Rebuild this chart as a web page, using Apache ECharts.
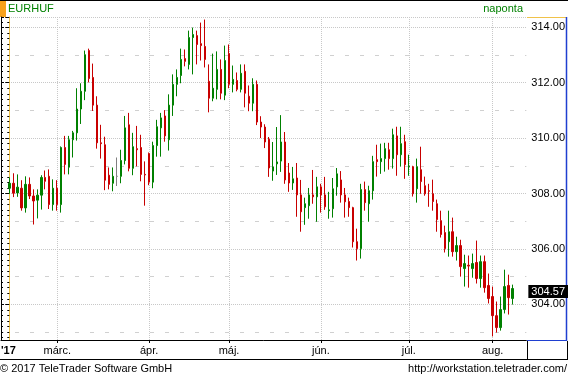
<!DOCTYPE html>
<html>
<head>
<meta charset="utf-8">
<title>EURHUF</title>
<script src="https://cdn.jsdelivr.net/npm/echarts@6/dist/echarts.min.js"></script>
<style>
  html, body { margin: 0; padding: 0; background: #fff; }
  #chart { width: 568px; height: 377px; }
</style>
</head>
<body>
<div id="chart"></div>
<script>
// daily EURHUF candles, 2017-02-13 .. 2017-08-08 (weekdays)
var opens = [
  308.19, 308.37, 308.02, 308.19, 307.48, 308.33, 307.91, 307.76, 307.94, 308.58,
  308.62, 307.60, 308.19, 307.60, 309.66, 308.95, 309.94, 310.19, 311.05, 311.69,
  313.16, 312.19, 311.19, 309.83, 309.76, 308.66, 308.37, 308.62, 308.62, 309.19,
  310.48, 308.91, 309.62, 309.66, 308.69, 309.44, 308.41, 309.73, 310.37, 310.80,
  309.94, 311.19, 311.94, 312.26, 312.87, 312.66, 313.63, 313.70, 313.41, 313.31,
  312.05, 311.44, 311.76, 312.48, 311.55, 313.05, 311.94, 312.08, 311.76, 312.41,
  311.51, 311.26, 311.94, 310.58, 310.40, 309.96, 308.81, 309.07, 309.17, 309.86,
  308.74, 308.38, 308.56, 307.95, 307.49, 307.56, 307.95, 307.88, 308.24, 307.95,
  307.38, 307.45, 308.24, 308.49, 307.95, 307.71, 307.49, 306.26, 306.01, 308.14,
  307.63, 308.10, 309.22, 309.15, 309.26, 309.58, 309.26, 310.08, 309.40, 309.87,
  308.97, 308.97, 308.17, 308.86, 308.28, 308.10, 307.99, 307.63, 307.02, 306.59,
  306.26, 306.62, 305.90, 306.12, 305.29, 305.41, 305.29, 305.51, 304.93, 305.54,
  304.68, 304.28, 303.59, 303.16, 303.81, 304.68, 304.21
];
var closes = [
  308.37, 308.01, 308.23, 307.48, 308.33, 307.91, 307.73, 307.94, 308.58, 308.44,
  307.60, 308.19, 307.60, 309.66, 309.05, 309.94, 310.19, 311.05, 311.69, 313.01,
  312.15, 311.19, 309.83, 309.80, 308.48, 308.33, 308.62, 308.62, 309.19, 310.37,
  308.91, 309.69, 309.58, 308.69, 308.67, 308.41, 309.73, 310.41, 310.73, 310.08,
  311.19, 311.94, 312.19, 312.84, 312.77, 313.63, 313.74, 313.38, 313.34, 312.84,
  311.44, 311.80, 312.48, 311.62, 312.80, 311.94, 312.12, 311.76, 312.34, 311.62,
  311.26, 311.94, 310.58, 310.40, 309.86, 308.92, 308.96, 309.14, 309.86, 308.49,
  308.38, 308.53, 307.95, 307.34, 307.63, 307.95, 307.88, 308.24, 307.95, 307.52,
  307.41, 308.17, 308.71, 307.95, 307.70, 307.49, 306.26, 306.01, 308.14, 307.67,
  308.10, 309.15, 309.15, 309.26, 309.62, 309.26, 310.12, 309.40, 309.80, 309.04,
  308.99, 307.99, 308.97, 308.43, 307.99, 308.08, 307.71, 307.06, 306.52, 306.01,
  306.62, 305.90, 306.12, 305.36, 305.47, 305.38, 305.47, 304.93, 305.54, 304.60,
  304.21, 303.59, 303.16, 303.81, 304.64, 304.24, 304.57
];
var lows = [
  307.99, 307.87, 307.88, 307.38, 307.31, 307.80, 306.88, 307.10, 307.42, 308.15,
  307.44, 307.38, 307.38, 307.31, 308.69, 308.69, 309.30, 309.91, 310.51, 311.37,
  312.01, 310.98, 309.62, 309.26, 308.12, 308.15, 308.08, 308.27, 308.37, 309.05,
  308.80, 308.66, 308.98, 308.44, 307.56, 308.30, 308.19, 309.33, 309.33, 309.87,
  309.55, 310.80, 311.51, 311.98, 312.59, 312.48, 312.30, 312.66, 312.80, 312.55,
  310.93, 311.33, 311.40, 311.40, 311.37, 311.80, 311.65, 311.69, 311.65, 311.11,
  310.97, 310.97, 310.47, 310.00, 309.64, 308.60, 308.46, 308.67, 308.78, 308.35,
  308.06, 308.13, 307.16, 306.62, 306.87, 307.09, 307.63, 306.98, 307.31, 307.41,
  307.09, 307.13, 307.92, 307.67, 307.13, 307.16, 306.05, 305.58, 305.65, 307.38,
  306.98, 307.78, 308.61, 308.71, 308.79, 308.86, 308.90, 308.64, 308.97, 308.53,
  308.64, 307.89, 307.67, 307.99, 307.92, 307.52, 307.38, 306.62, 306.41, 305.87,
  305.72, 305.72, 305.58, 305.00, 304.64, 304.60, 304.96, 304.75, 304.60, 304.42,
  304.03, 302.84, 302.98, 303.05, 303.67, 303.63, 303.99
];
var highs = [
  308.58, 308.73, 308.69, 308.48, 308.62, 308.58, 308.15, 308.15, 308.66, 308.83,
  308.87, 308.51, 308.48, 309.70, 310.08, 310.08, 310.26, 311.80, 311.98, 313.16,
  313.23, 312.69, 311.51, 310.48, 310.05, 308.94, 308.94, 309.30, 309.58, 310.80,
  310.91, 310.19, 310.44, 310.12, 309.16, 309.48, 309.87, 310.66, 310.91, 311.01,
  311.58, 312.30, 312.48, 313.23, 313.20, 313.88, 313.99, 313.88, 314.17, 314.28,
  312.66, 313.05, 313.13, 312.84, 313.34, 313.38, 312.62, 312.37, 312.66, 312.66,
  311.90, 312.16, 312.08, 310.79, 310.50, 310.04, 309.86, 310.40, 310.83, 310.22,
  309.10, 308.96, 309.10, 308.49, 307.85, 308.20, 308.85, 308.60, 308.35, 308.60,
  308.06, 308.56, 308.92, 308.81, 308.20, 307.85, 307.52, 306.73, 308.35, 308.43,
  308.28, 309.36, 309.76, 309.80, 309.83, 309.83, 310.34, 310.41, 310.41, 310.12,
  309.40, 309.00, 309.26, 309.69, 308.61, 308.35, 308.50, 307.78, 307.38, 306.84,
  307.38, 307.13, 306.44, 306.33, 305.79, 305.76, 305.83, 306.30, 305.76, 305.76,
  305.11, 304.64, 304.10, 304.28, 305.25, 305.07, 304.71
];
var monthNames = ['jan.', 'febr.', 'márc.', 'ápr.', 'máj.', 'jún.', 'júl.', 'aug.', 'szept.', 'okt.', 'nov.', 'dec.'];
var startDate = new Date(2017, 1, 13);

// weekday calendar for the candles
var dates = [];
var d = new Date(startDate);
while (dates.length < opens.length) {
  if (d.getDay() !== 0 && d.getDay() !== 6) dates.push(new Date(d));
  d.setDate(d.getDate() + 1);
}
var monthStarts = [];
for (var i = 1; i < dates.length; i++) {
  if (dates[i].getMonth() !== dates[i - 1].getMonth()) monthStarts.push(i);
}
var candles = opens.map(function (o, i) {
  return [i, o, closes[i], lows[i], highs[i]];
});
var lastClose = closes[closes.length - 1];

var FONT = '"Liberation Sans", Arial, sans-serif';
var Y_MIN = 302.711, Y_MAX = 314.372;
var myChart = echarts.init(document.getElementById('chart'));

var option = {
  animation: false,
  backgroundColor: '#fff',
  grid: { left: 1, right: 41, top: 17, bottom: 37 },
  xAxis: {
    type: 'value',
    min: -2.075,
    max: 129.425,
    axisLine: { show: true, onZero: false, lineStyle: { color: '#000', width: 1 } },
    axisTick: { show: true, customValues: monthStarts, length: 3, lineStyle: { color: '#000' } },
    axisLabel: {
      customValues: monthStarts,
      margin: 5,
      color: '#000',
      fontSize: 11,
      fontFamily: FONT,
      formatter: function (v) {
        var dt = dates[Math.round(v)];
        return dt ? monthNames[dt.getMonth()] : '';
      }
    },
    splitLine: { show: true, lineStyle: { color: '#c8c8c8', type: [1, 1] } }
  },
  yAxis: [
    {
      type: 'value',
      position: 'right',
      min: Y_MIN,
      max: Y_MAX,
      splitNumber: 6,
      axisLine: { show: true, lineStyle: { color: '#f0c24a', width: 1 } },
      axisTick: { show: true, inside: true, length: 4, lineStyle: { color: '#000' } },
      minorTick: { show: true, splitNumber: 10, length: 2, lineStyle: { color: '#000' } },
      axisLabel: {
        margin: 5,
        color: '#000',
        fontSize: 11,
        fontFamily: FONT,
        showMinLabel: false,
        showMaxLabel: false,
        formatter: function (v) { return v.toFixed(2); }
      },
      splitLine: { show: true, lineStyle: { color: '#c8c8c8', type: [1, 1] } }
    },
    {
      type: 'value',
      position: 'left',
      min: Y_MIN,
      max: Y_MAX,
      splitNumber: 6,
      axisLine: { show: true, lineStyle: { color: '#000', width: 1 } },
      axisTick: { show: true, inside: true, length: 3, lineStyle: { color: '#000' } },
      minorTick: { show: true, splitNumber: 10, length: 2, lineStyle: { color: '#000' } },
      axisLabel: { show: false },
      splitLine: { show: false }
    },
    {
      // dashed lines on the odd levels
      type: 'value',
      position: 'left',
      min: Y_MIN,
      max: Y_MAX,
      splitNumber: 6,
      axisLine: { show: false },
      axisTick: { show: false },
      axisLabel: { show: false },
      splitLine: { show: false },
      minorTick: { show: false, splitNumber: 2 },
      minorSplitLine: { show: true, lineStyle: { color: '#d0d0d0', type: [4, 11], dashOffset: 1 } }
    }
  ],
  series: [{
    name: 'EURHUF',
    type: 'candlestick',
    yAxisIndex: 0,
    data: candles,
    encode: { x: 0, y: [1, 2, 3, 4] },
    barWidth: 2,
    itemStyle: {
      color: '#008000',
      color0: '#c80000',
      borderColor: '#008000',
      borderColor0: '#c80000',
      borderColorDoji: '#808080',
      borderWidth: 1
    },
    markLine: {
      silent: true,
      symbol: ['none', 'none'],
      lineStyle: { color: 'rgba(0,0,0,0)', width: 0, type: 'solid' },
      data: [{ yAxis: lastClose }],
      label: {
        show: true,
        position: 'end',
        distance: 2,
        offset: [0, 3],
        formatter: function () { return lastClose.toFixed(2); },
        backgroundColor: '#000',
        color: '#fff',
        fontSize: 11,
        fontFamily: FONT,
        padding: [1, 3, 1, 3]
      }
    }
  }],
  graphic: [
    { type: 'line', shape: { x1: 0, y1: 0.5, x2: 568, y2: 0.5 }, style: { stroke: '#000', lineWidth: 1 } },
    { type: 'rect', shape: { x: 0, y: 1, width: 6, height: 16 }, style: { fill: '#f7a11a' } },
    { type: 'text', left: 8, top: 3, style: { text: 'EURHUF', fill: '#008000', font: '11px ' + FONT } },
    { type: 'text', right: 45, top: 3, style: { text: 'naponta', fill: '#008000', font: '11px ' + FONT } },
    { type: 'line', shape: { x1: 527, y1: 17.5, x2: 567, y2: 17.5 }, style: { stroke: '#f0c24a', lineWidth: 1 } },
    { type: 'line', shape: { x1: 566.5, y1: 17, x2: 566.5, y2: 341 }, style: { stroke: '#1f3fd0', lineWidth: 1.5 } },
    { type: 'line', shape: { x1: 527, y1: 340.5, x2: 567, y2: 340.5 }, style: { stroke: '#1f3fd0', lineWidth: 1 } },
    { type: 'line', shape: { x1: 0, y1: 359.5, x2: 568, y2: 359.5 }, style: { stroke: '#000', lineWidth: 1 } },
    { type: 'line', shape: { x1: 527.5, y1: 341, x2: 527.5, y2: 360 }, style: { stroke: '#000', lineWidth: 1 } },
    { type: 'line', shape: { x1: 567.5, y1: 341, x2: 567.5, y2: 360 }, style: { stroke: '#000', lineWidth: 1 } },
    { type: 'text', left: 1, top: 345, style: { text: "'17", fill: '#000', font: 'bold 11px ' + FONT } },
    { type: 'text', left: 0, top: 363, style: { text: '© 2017 TeleTrader Software GmbH', fill: '#000', font: '11px ' + FONT } },
    { type: 'text', right: 1, top: 363, style: { text: 'http://workstation.teletrader.com/', fill: '#000', font: '11px ' + FONT } }
  ]
};

myChart.setOption(option);
</script>
</body>
</html>
